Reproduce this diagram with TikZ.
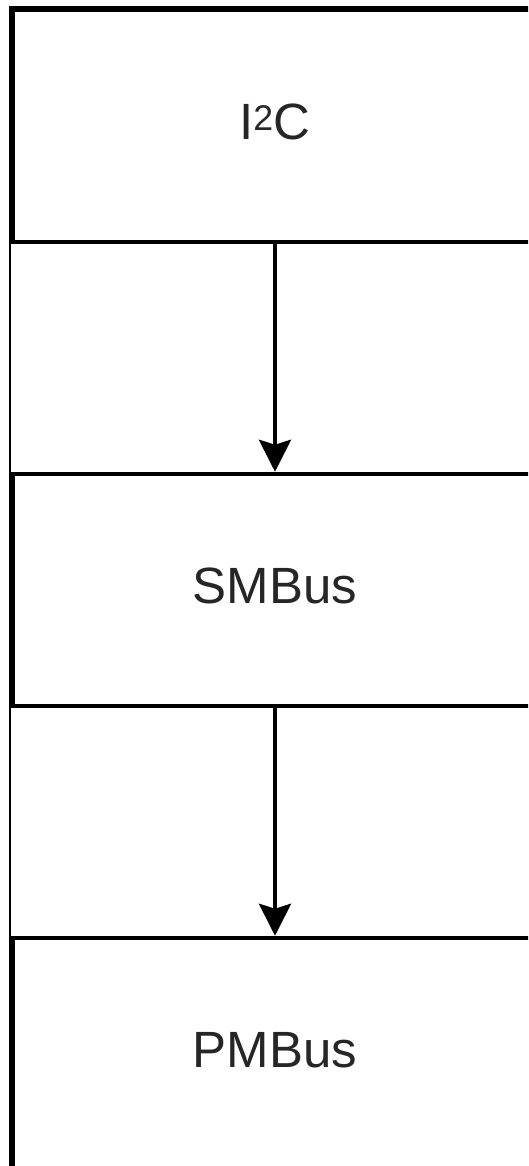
\documentclass[tikz,border=0pt]{standalone}
\usepackage{fontspec}
\setmainfont{Liberation Sans}
\usetikzlibrary{arrows.meta}

\begin{document}
\begin{tikzpicture}[x=1pt,y=-1pt,
    busbox/.style={draw, line width=4.5pt, minimum width=524pt, minimum height=232pt,
        text=black!85, text depth=8pt, font=\fontsize{51}{60}\selectfont},
    flow/.style={line width=4pt, -{Stealth[length=32pt,width=32pt,inset=5pt]}}]
\useasboundingbox (0,0) rectangle (528,1166);
\clip (0,0) rectangle (528,1166);

% outer lane
\draw[line width=2pt] (10,1180) |- (560,7);

% protocol boxes
\node[busbox] (i2c) at (275,126) {I\textsuperscript{2}C};
\node[busbox] (smbus) at (275,590) {SMBus};
\node[busbox] (pmbus) at (275,1054) {PMBus};

% arrows
\draw[flow] (i2c) -- (smbus);
\draw[flow] (smbus) -- (pmbus);
\end{tikzpicture}
\end{document}
